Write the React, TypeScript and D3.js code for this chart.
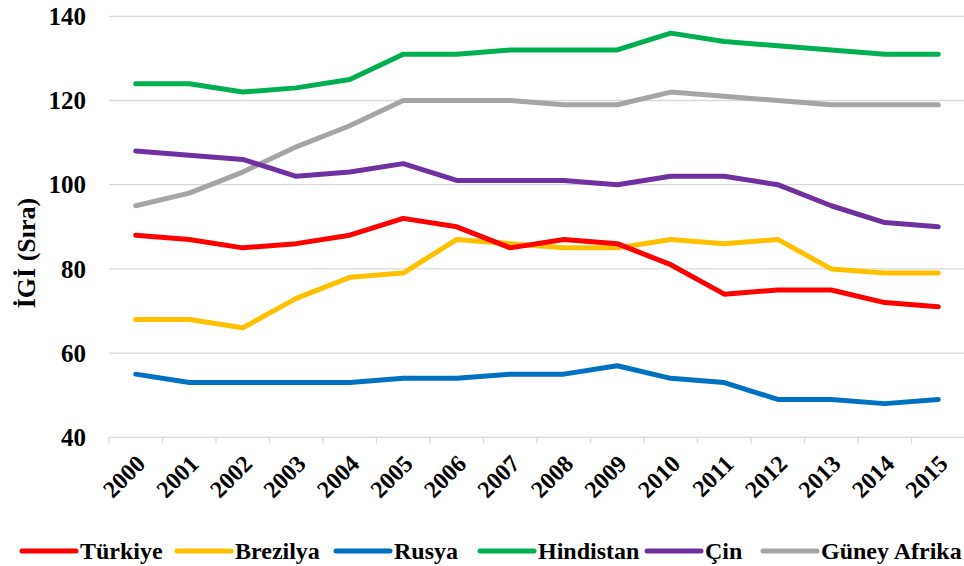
import React from "react";
import * as d3 from "d3";

const years = ["2000","2001","2002","2003","2004","2005","2006","2007","2008","2009","2010","2011","2012","2013","2014","2015"];
const turkiye = [88, 87, 85, 86, 88, 92, 90, 85, 87, 86, 81, 74, 75, 75, 72, 71];
const brezilya = [68, 68, 66, 73, 78, 79, 87, 86, 85, 85, 87, 86, 87, 80, 79, 79];
const rusya = [55, 53, 53, 53, 53, 54, 54, 55, 55, 57, 54, 53, 49, 49, 48, 49];
const hindistan = [124, 124, 122, 123, 125, 131, 131, 132, 132, 132, 136, 134, 133, 132, 131, 131];
const cin = [108, 107, 106, 102, 103, 105, 101, 101, 101, 100, 102, 102, 100, 95, 91, 90];
const guneyAfrika = [95, 98, 103, 109, 114, 120, 120, 120, 119, 119, 122, 121, 120, 119, 119, 119];
const yTicks = [40, 60, 80, 100, 120, 140];

const seriesNames = ["Türkiye", "Brezilya", "Rusya", "Hindistan", "Çin", "Güney Afrika"];
const seriesValues = [turkiye, brezilya, rusya, hindistan, cin, guneyAfrika];
const seriesColors = ["#FF0000", "#FFC000", "#0070C0", "#00B050", "#7030A0", "#A5A5A5"];
const drawOrder = [5, 4, 3, 2, 1, 0];
const legendX = [22, 177, 336, 480, 647, 763];

const W = 964, H = 566;
const left = 109, right = 965, top = 16.3, bottom = 437.3;
const font = "Liberation Serif, Tinos, DejaVu Serif, serif";
const ts = { fontFamily: font, fontWeight: 700 as const };

export default function App() {
  const x = d3.scalePoint<string>().domain(years).range([left, right]).padding(0.5);
  const band = (right - left) / years.length;
  const y = d3.scaleLinear().domain([40, 140]).range([bottom, top]);
  const line = d3.line<number>()
    .x((_, i) => x(years[i]) as number)
    .y((d) => y(d));

  return (
    <svg width={W} height={H} style={{ position: "absolute", left: 0, top: 0, background: "#fff" }}>
      {yTicks.map((t) => (
        <g key={t}>
          <line x1={left} x2={right} y1={y(t)} y2={y(t)} stroke="#D9D9D9" strokeWidth={1.3} />
          <text x={86} y={y(t)} dy="0.35em" textAnchor="end" fontSize={25} style={ts} fill="#000">{t}</text>
        </g>
      ))}
      {d3.range(years.length + 1).map((i) => (
        <line key={i} x1={left + i * band} x2={left + i * band} y1={bottom} y2={bottom + 6} stroke="#D9D9D9" strokeWidth={1.3} />
      ))}
      {years.map((yr) => (
        <text key={yr} transform={`translate(${(x(yr) as number) + 5},${bottom + 22}) rotate(-45)`} textAnchor="end" dy="0.35em" fontSize={24} style={ts} fill="#000">{yr}</text>
      ))}
      <text transform={`translate(26,253) rotate(-90)`} textAnchor="middle" dy="0.35em" fontSize={26} style={ts} fill="#000">İGİ (Sıra)</text>
      {drawOrder.map((k) => (
        <path key={k} d={line(seriesValues[k]) || ""} fill="none" stroke={seriesColors[k]} strokeWidth={5} strokeLinejoin="round" strokeLinecap="round" />
      ))}
      {seriesNames.map((n, k) => (
        <g key={n}>
          <line x1={legendX[k]} x2={legendX[k] + 54} y1={551} y2={551} stroke={seriesColors[k]} strokeWidth={5} strokeLinecap="round" />
          <text x={legendX[k] + 58} y={551} dy="0.35em" fontSize={24} style={ts} fill="#000">{n}</text>
        </g>
      ))}
    </svg>
  );
}
